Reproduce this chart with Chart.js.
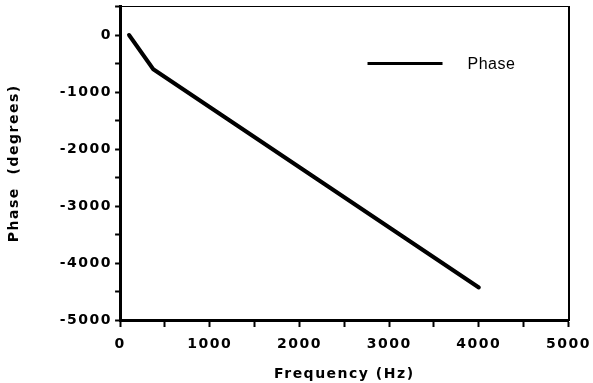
<!DOCTYPE html>
<html>
<head>
<meta charset="utf-8">
<script src="https://cdn.jsdelivr.net/npm/chart.js@4/dist/chart.umd.min.js"></script>
<style>
  html, body { margin: 0; padding: 0; background: #fff; }
  #wrap { width: 593px; height: 383px; }
</style>
</head>
<body>
<div id="wrap"><canvas id="phaseChart"></canvas></div>
<script>
// values
var freqHz = [100, 370, 4000];
var phaseDeg = [0, -600, -4430];
var xTickLabels = [0, 1000, 2000, 3000, 4000, 5000];
var yTickLabels = [0, -1000, -2000, -3000, -4000, -5000];
var seriesName = "Phase";

var fam = "'DejaVu Sans', sans-serif";

// wide tracking like the scanned original (canvas resets on resize, so set every time)
var spacing = {
  id: 'spacing',
  beforeUpdate: function (chart) { chart.ctx.letterSpacing = '1.5px'; },
  beforeDraw: function (chart) { chart.ctx.letterSpacing = '1.5px'; }
};

// legend sitting inside the plot, upper right
var innerLegend = {
  id: 'innerLegend',
  afterDatasetsDraw: function (chart) {
    var ctx = chart.ctx, a = chart.chartArea;
    var ds = chart.data.datasets[0];
    var y = a.top + 57;
    ctx.save();
    ctx.strokeStyle = ds.borderColor;
    ctx.lineWidth = 3;
    ctx.beginPath();
    ctx.moveTo(a.right - 201, y);
    ctx.lineTo(a.right - 126, y);
    ctx.stroke();
    ctx.letterSpacing = '0.5px';
    ctx.fillStyle = '#000';
    ctx.font = "16px 'Liberation Sans', Arial, sans-serif";
    ctx.textBaseline = 'middle';
    ctx.fillText(ds.label, a.right - 101, y + 1);
    ctx.restore();
  }
};

var pts = [];
for (var i = 0; i < freqHz.length; i++) pts.push({x: freqHz[i], y: phaseDeg[i]});

var ctx = document.getElementById("phaseChart").getContext("2d");
new Chart(ctx, {
  type: 'scatter',
  data: {
    datasets: [{
      label: seriesName,
      data: pts,
      showLine: true,
      borderColor: '#000',
      borderWidth: 4,
      borderCapStyle: 'round',
      pointRadius: 0
    }]
  },
  options: {
    responsive: true,
    maintainAspectRatio: false,
    animation: false,
    layout: {padding: {left: 6, right: 14, top: 3, bottom: 3}},
    plugins: {legend: {display: false}, tooltip: {enabled: false}},
    scales: {
      x: {
        type: 'linear', position: 'bottom',
        min: 0, max: 5000,
        grid: {drawOnChartArea: false, tickLength: 7, tickWidth: 2, tickColor: '#000'},
        border: {display: true, color: '#000', width: 3},
        ticks: {
          stepSize: 500, color: '#000', padding: 2, maxRotation: 0, autoSkip: false,
          font: {family: fam, size: 14, weight: 'bold', lineHeight: 2.2},
          callback: function (v) { return xTickLabels.indexOf(v) >= 0 ? String(v) : ''; }
        },
        title: {
          display: true, text: 'Frequency (Hz)', color: '#000',
          font: {family: fam, size: 14, weight: 'bold', lineHeight: 0.8},
          padding: {top: 7, bottom: 0}
        }
      },
      y: {
        type: 'linear', position: 'left',
        min: -5000, max: 500,
        grid: {drawOnChartArea: false, tickLength: 5, tickWidth: 2, tickColor: '#000'},
        border: {display: true, color: '#000', width: 3},
        ticks: {
          stepSize: 500, color: '#000', padding: 3, autoSkip: false,
          font: {family: fam, size: 14, weight: 'bold', lineHeight: 0.5},
          callback: function (v) { return yTickLabels.indexOf(v) >= 0 ? String(v) : ''; }
        },
        title: {
          display: true, text: 'Phase  (degrees)', color: '#000',
          font: {family: fam, size: 14, weight: 'bold'},
          padding: {top: 0, bottom: 34}
        }
      },
      xTop: {
        type: 'linear', position: 'top',
        grid: {display: false, drawTicks: false},
        border: {display: true, color: '#000', width: 1},
        ticks: {display: false}
      },
      yRight: {
        type: 'linear', position: 'right',
        grid: {display: false, drawTicks: false},
        border: {display: true, color: '#000', width: 2},
        ticks: {display: false}
      }
    }
  },
  plugins: [spacing, innerLegend]
});
</script>
</body>
</html>
